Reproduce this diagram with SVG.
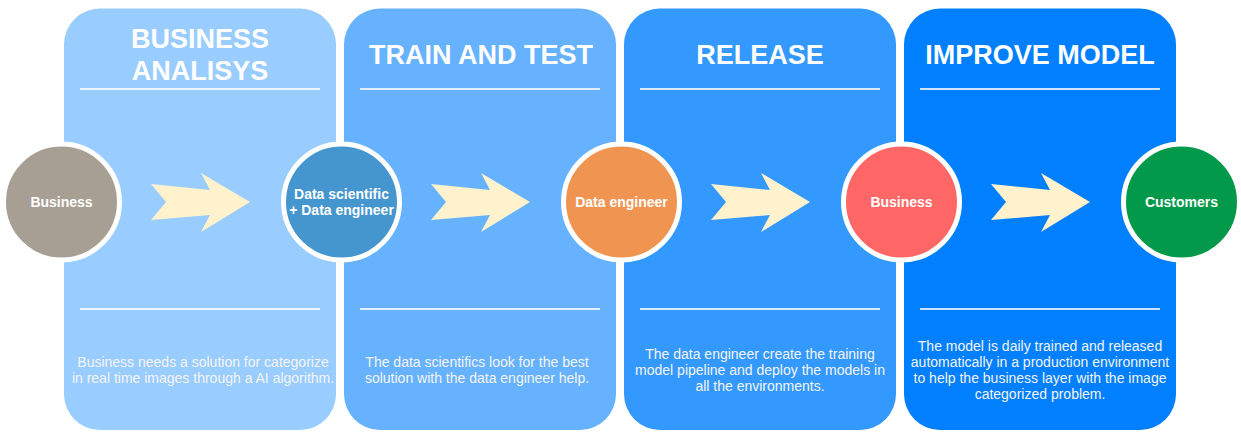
<svg xmlns="http://www.w3.org/2000/svg" width="1241" height="438" viewBox="0 0 1241 438">
<style>
.panel{stroke:none}
.sep{stroke:#ffffff;stroke-opacity:0.8;stroke-width:2}
.title{font-family:"Liberation Sans",Arial,sans-serif;font-weight:bold;font-size:27px;fill:#ffffff;text-anchor:middle}
.desc{font-family:"Liberation Sans",Arial,sans-serif;font-size:14px;fill:#f4f4f4;text-anchor:middle}
.node{stroke:#ffffff;stroke-width:5}
.ntext{font-family:"Liberation Sans",Arial,sans-serif;font-weight:bold;font-size:14px;fill:#ffffff;text-anchor:middle}
.arrow{fill:#FFF2CC}
</style>
<defs>
<polygon id="arr" points="151,184 210,190 201,173 250,202 201,232 210,215 151,220 166,202"/>
</defs>
<rect width="1241" height="438" fill="#ffffff"/>
<g id="panel-business-analysis">
<rect class="panel" x="64" y="8.5" width="272" height="421.5" rx="36" fill="#99CCFF"/>
<text class="title" x="200" y="48">BUSINESS</text>
<text class="title" x="200" y="80">ANALISYS</text>
<line class="sep" x1="80" y1="89" x2="320" y2="89"/>
<line class="sep" x1="80" y1="309" x2="320" y2="309"/>
<text class="desc" x="203" y="367">Business needs a solution for categorize</text>
<text class="desc" x="203" y="383">in real time images through a AI algorithm.</text>
</g>
<g id="panel-train-test">
<rect class="panel" x="344" y="8.5" width="272" height="421.5" rx="36" fill="#66B2FF"/>
<text class="title" x="481" y="64">TRAIN AND TEST</text>
<line class="sep" x1="360" y1="89" x2="600" y2="89"/>
<line class="sep" x1="360" y1="309" x2="600" y2="309"/>
<text class="desc" x="477" y="367">The data scientifics look for the best</text>
<text class="desc" x="477" y="383">solution with the data engineer help.</text>
</g>
<g id="panel-release">
<rect class="panel" x="624" y="8.5" width="272" height="421.5" rx="36" fill="#3399FF"/>
<text class="title" x="760" y="64">RELEASE</text>
<line class="sep" x1="640" y1="89" x2="880" y2="89"/>
<line class="sep" x1="640" y1="309" x2="880" y2="309"/>
<text class="desc" x="760" y="359">The data engineer create the training</text>
<text class="desc" x="760" y="375">model pipeline and deploy the models in</text>
<text class="desc" x="760" y="391">all the environments.</text>
</g>
<g id="panel-improve-model">
<rect class="panel" x="904" y="8.5" width="272" height="421.5" rx="36" fill="#007FFF"/>
<text class="title" x="1040" y="64">IMPROVE MODEL</text>
<line class="sep" x1="920" y1="89" x2="1160" y2="89"/>
<line class="sep" x1="920" y1="309" x2="1160" y2="309"/>
<text class="desc" x="1040" y="351">The model is daily trained and released</text>
<text class="desc" x="1040" y="367">automatically in a production environment</text>
<text class="desc" x="1040" y="383">to help the business layer with the image</text>
<text class="desc" x="1040" y="399">categorized problem.</text>
</g>
<g id="connectors">
<use href="#arr" class="arrow"/>
<use href="#arr" class="arrow" x="280"/>
<use href="#arr" class="arrow" x="560"/>
<use href="#arr" class="arrow" x="840"/>
</g>
<g id="node-business">
<circle class="node" cx="61.5" cy="202" r="58" fill="#A89F94"/>
<text class="ntext" x="61.5" y="207">Business</text>
</g>
<g id="node-data-scientific">
<circle class="node" cx="341.5" cy="202" r="58" fill="#4596CE"/>
<text class="ntext" x="341.5" y="199">Data scientific</text>
<text class="ntext" x="341.5" y="215">+ Data engineer</text>
</g>
<g id="node-data-engineer">
<circle class="node" cx="621.5" cy="202" r="58" fill="#EF9551"/>
<text class="ntext" x="621.5" y="207">Data engineer</text>
</g>
<g id="node-business-2">
<circle class="node" cx="901.5" cy="202" r="58" fill="#FF6666"/>
<text class="ntext" x="901.5" y="207">Business</text>
</g>
<g id="node-customers">
<circle class="node" cx="1181.5" cy="202" r="58" fill="#02994A"/>
<text class="ntext" x="1181.5" y="207">Customers</text>
</g>
</svg>
